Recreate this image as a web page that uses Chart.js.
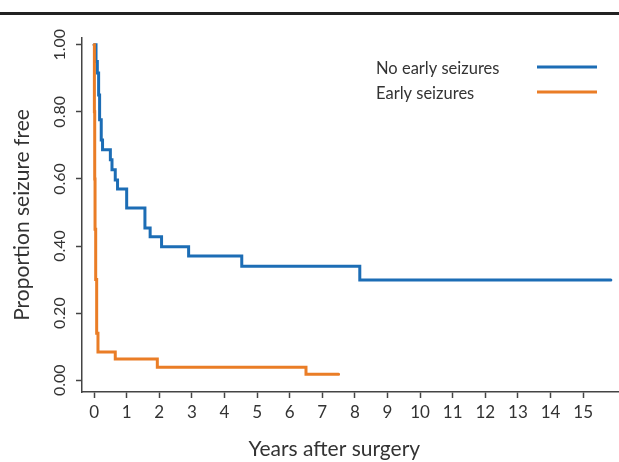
<!DOCTYPE html>
<html>
<head>
<meta charset="utf-8">
<script src="https://cdn.jsdelivr.net/npm/chart.js@4.4.0/dist/chart.umd.min.js"></script>
<style>
  html, body { margin: 0; padding: 0; background: #fff; }
  #wrap { position: relative; width: 619px; height: 462px; }
  #rule { position: absolute; left: 0; top: 12px; width: 619px; height: 3px; background: #222; }
</style>
</head>
<body>
<div id="wrap">
  <canvas id="km-chart" width="619" height="462"></canvas>
  <div id="rule"></div>
</div>
<script>
// Kaplan-Meier curves, values
const xTicks = [0, 1, 2, 3, 4, 5, 6, 7, 8, 9, 10, 11, 12, 13, 14, 15];
const yTicks = [0, 0.2, 0.4, 0.6, 0.8, 1.0];

const seriesLabels = ['No early seizures', 'Early seizures'];
const seriesColors = ['#1c6db5', '#ea7d26'];

const noEarlyTimes  = [0, 0.06, 0.10, 0.14, 0.17, 0.22, 0.26, 0.50, 0.55, 0.65, 0.72, 1.00, 1.56, 1.72, 2.07, 2.90, 4.53, 8.15, 15.85];
const noEarlyValues = [1.0, 0.95, 0.916, 0.85, 0.776, 0.716, 0.687, 0.657, 0.627, 0.597, 0.570, 0.513, 0.454, 0.428, 0.398, 0.370, 0.340, 0.299, 0.299];

const earlyTimes  = [0, 0.01, 0.02, 0.03, 0.05, 0.08, 0.12, 0.65, 1.94, 6.50, 7.50];
const earlyValues = [1.0, 0.80, 0.60, 0.45, 0.30, 0.14, 0.084, 0.063, 0.039, 0.018, 0.018];

const toPoints = (xs, ys) => xs.map((x, i) => ({ x: x, y: ys[i] }));

const textColor = '#333';
const axisColor = '#444';

// legend sits to the right of the text, so draw it by hand
const sideLegend = {
  id: 'sideLegend',
  afterDatasetsDraw(chart) {
    const ctx = chart.ctx;
    const rowY = [67, 92];
    ctx.save();
    ctx.font = '16.5px Lato';
    ctx.textBaseline = 'middle';
    ctx.textAlign = 'left';
    chart.data.datasets.forEach((ds, i) => {
      ctx.fillStyle = textColor;
      ctx.fillText(ds.label, 376, rowY[i] + 2);
      ctx.strokeStyle = ds.borderColor;
      ctx.lineWidth = 3;
      ctx.beginPath();
      ctx.moveTo(537, rowY[i]);
      ctx.lineTo(597, rowY[i]);
      ctx.stroke();
    });
    ctx.restore();
  }
};

Chart.defaults.font.family = 'Lato';
Chart.defaults.color = textColor;

const ctx = document.getElementById('km-chart').getContext('2d');
const chart = new Chart(ctx, {
  type: 'line',
  data: {
    datasets: [{
      label: seriesLabels[0],
      data: toPoints(noEarlyTimes, noEarlyValues),
      borderColor: seriesColors[0],
      borderWidth: 3,
      stepped: true,
      pointRadius: 0,
      borderCapStyle: 'round',
      fill: false,
      order: 1
    }, {
      label: seriesLabels[1],
      data: toPoints(earlyTimes, earlyValues),
      borderColor: seriesColors[1],
      borderWidth: 3,
      stepped: true,
      pointRadius: 0,
      borderCapStyle: 'round',
      fill: false,
      order: 0
    }]
  },
  options: {
    responsive: false,
    animation: false,
    layout: { padding: { top: 38, right: 0, bottom: 0, left: 0 } },
    plugins: {
      legend: { display: false },
      tooltip: { enabled: false }
    },
    scales: {
      x: {
        type: 'linear',
        min: -0.37,
        max: 16.1,
        afterBuildTicks: (scale) => { scale.ticks = xTicks.map(v => ({ value: v })); },
        afterFit: (scale) => { scale.height = 70; },
        ticks: { font: { size: 17 }, padding: 4, callback: (v) => String(v) },
        grid: { drawOnChartArea: false, drawTicks: true, tickLength: 6, color: axisColor, tickWidth: 1.5 },
        border: { display: true, color: axisColor, width: 1.5 },
        // trailing spaces nudge the centred title a little left, as in the original
        title: { display: true, text: 'Years after surgery      ', font: { size: 21 }, padding: { top: 0, bottom: 0 } }
      },
      y: {
        type: 'linear',
        min: -0.035,
        max: 1.02,
        afterBuildTicks: (scale) => { scale.ticks = yTicks.map(v => ({ value: v })); },
        afterFit: (scale) => { scale.width = 82; },
        ticks: {
          font: { size: 16 },
          minRotation: 90,
          maxRotation: 90,
          crossAlign: 'center',
          padding: 0,
          callback: (v) => Number(v).toFixed(2)
        },
        grid: { drawOnChartArea: false, drawTicks: true, tickLength: 6, color: axisColor, tickWidth: 1.5 },
        border: { display: true, color: axisColor, width: 1.5 },
        title: { display: true, text: 'Proportion seizure free', font: { size: 21 }, padding: { top: 10, bottom: 0 } }
      }
    }
  },
  plugins: [sideLegend]
});
</script>
</body>
</html>
